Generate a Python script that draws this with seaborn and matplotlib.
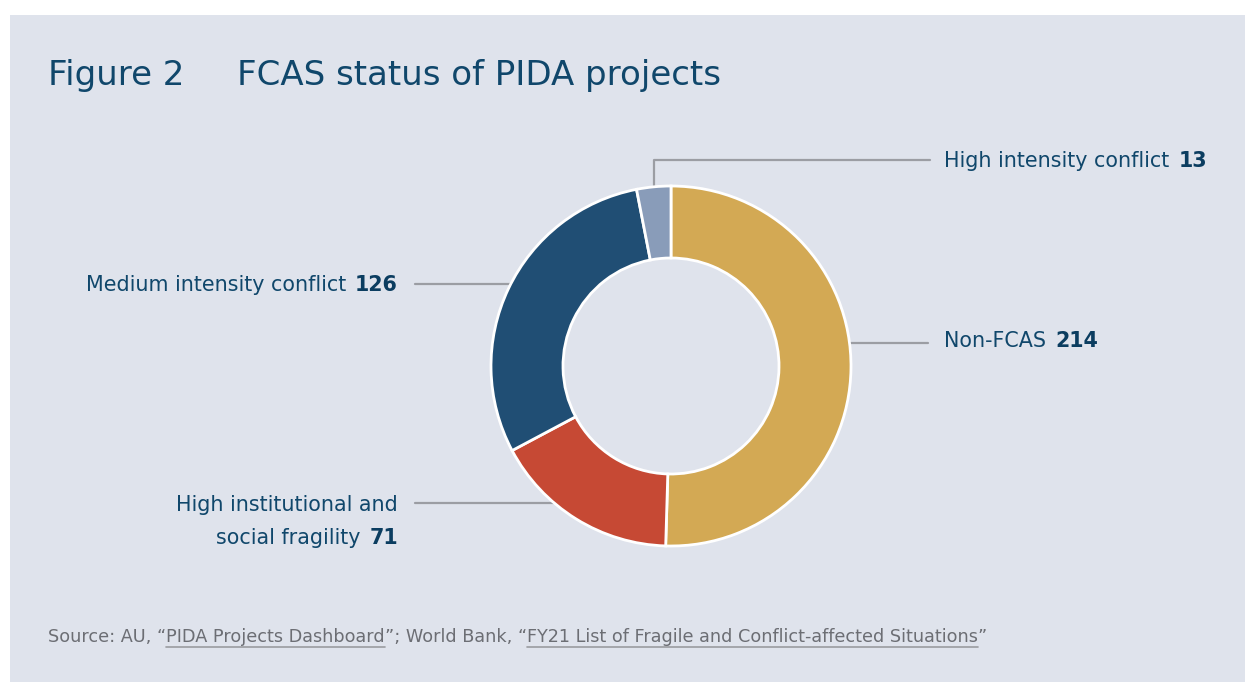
import numpy as np
import matplotlib.pyplot as plt
import seaborn as sns
from matplotlib.patches import Rectangle
from matplotlib.lines import Line2D

sns.set_theme(style="white")
plt.rcParams["font.family"] = ["DejaVu Sans"]

# ------------------------------------------------
# DATA
# ------------------------------------------------
categories = ["Non-FCAS", "High institutional and\nsocial fragility",
              "Medium intensity conflict", "High intensity conflict"]
counts = [214, 71, 126, 13]
colors = ["#D3A954", "#C64934", "#204E74", "#899CB9"]

title_num = "Figure 2"
title_txt = "FCAS status of PIDA projects"
source_parts = ["Source: AU, \u201c", "PIDA Projects Dashboard", "\u201d; World Bank, \u201c",
                "FY21 List of Fragile and Conflict-affected Situations", "\u201d"]

# ------------------------------------------------
# LAYOUT (pixels, y from top)
# ------------------------------------------------
W, H = 1245, 682
BG = "#DFE3EC"
NAVY = "#10476B"
NUM = "#0B3D60"
LINE = "#9B9DA3"
GREY = "#6C6E74"

fig = plt.figure(figsize=(W / 100, H / 100), dpi=100)
fig.patch.set_facecolor("white")
ax = fig.add_axes([0, 0, 1, 1])
ax.add_patch(Rectangle((10, 0), W - 10, H - 15, color=BG, zorder=0, lw=0))

cx, cy, R = 671, H - 366, 180
wedges, _ = ax.pie(counts, colors=colors, startangle=90, counterclock=False,
                   radius=R, center=(cx, cy),
                   wedgeprops=dict(width=0.4 * R, edgecolor="white", linewidth=2))
ax.set_xlim(0, W)
ax.set_ylim(0, H)
ax.set_aspect("auto")
ax.axis("off")
renderer = fig.canvas.get_renderer()


def fit(texts, target):
    # scale font size of a group of texts so their total width matches target px
    fig.canvas.draw()
    x0 = min(t.get_window_extent(renderer).x0 for t in texts)
    x1 = max(t.get_window_extent(renderer).x1 for t in texts)
    k = target / (x1 - x0)
    for t in texts:
        t.set_fontsize(t.get_fontsize() * k)
    return texts[0].get_fontsize()


# label size from the "High intensity conflict" text (~226 px wide)
probe = ax.text(0, 0, categories[3], fontsize=14)
LFS = fit([probe], 226)
probe.remove()


def edge_x(y_top, side):
    dy = (H - y_top) - cy
    return cx + side * np.sqrt(R ** 2 - dy ** 2)


def hline(x0, x1, y_top):
    ax.add_line(Line2D([x0, x1], [H - y_top, H - y_top], color=LINE, lw=1.6, zorder=0.5))


# leader lines
hline(edge_x(343, 1), 928, 343)
hline(415, edge_x(284, -1), 284)
hline(415, edge_x(503, -1), 503)
w = wedges[3]
mid = np.deg2rad((w.theta1 + w.theta2) / 2)
ax_x = cx + R * np.cos(mid)
ax_y = cy + R * np.sin(mid)
ax.add_line(Line2D([ax_x, ax_x, 930], [ax_y, H - 160, H - 160], color=LINE, lw=1.6, zorder=0.5))


def label_left(x, y_top, text, num):
    t = ax.text(x, H - y_top, text, fontsize=LFS, color=NAVY, ha="left", va="center")
    ax.annotate(str(num), xy=(1, 0.5), xycoords=t, xytext=(6.5, 0), textcoords="offset points",
                fontsize=LFS, color=NUM, fontweight="bold", ha="left", va="center")


def label_right(x, y_top, text, num):
    n = ax.text(x, H - y_top, str(num), fontsize=LFS, color=NUM, fontweight="bold",
                ha="right", va="center")
    ax.annotate(text, xy=(0, 0.5), xycoords=n, xytext=(-6.5, 0), textcoords="offset points",
                fontsize=LFS, color=NAVY, ha="right", va="center")


label_left(944, 161, categories[3], counts[3])
label_left(944, 341, categories[0], counts[0])
label_right(398, 285, categories[2], counts[2])
first, second = categories[1].split("\n")
ax.text(398, H - 505, first, fontsize=LFS, color=NAVY, ha="right", va="center")
label_right(398, 538, second, counts[1])

# title
t1 = ax.text(48, H - 75, title_num, fontsize=22, color=NAVY, ha="left", va="center")
t2 = ax.text(237, H - 75, title_txt, fontsize=22, color=NAVY, ha="left", va="center")
fit([t2], 483)
t1.set_fontsize(t2.get_fontsize())

# source line with underlined pieces
prev = ax.text(48, H - 642, source_parts[0], fontsize=12, color=GREY, ha="left", va="baseline")
pieces = [prev]
for part in source_parts[1:]:
    prev = ax.annotate(part, xy=(1, 0), xycoords=prev, xytext=(0, 0), textcoords="offset points",
                       fontsize=12, color=GREY, ha="left", va="bottom")
    pieces.append(prev)
fit(pieces, 935)

fig.canvas.draw()
for p in (pieces[1], pieces[3]):
    bb = p.get_window_extent(renderer)
    ax.add_line(Line2D([bb.x0, bb.x1], [bb.y0 - 1, bb.y0 - 1], color="#9A9BA0", lw=1.2))

fig.savefig("out.png", dpi=100, facecolor=fig.get_facecolor())
